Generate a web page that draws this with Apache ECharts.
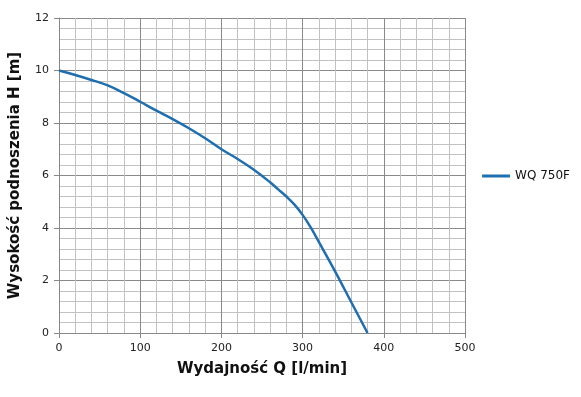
<!DOCTYPE html>
<html>
<head>
<meta charset="utf-8">
<script src="https://cdn.jsdelivr.net/npm/echarts@6/dist/echarts.min.js"></script>
<style>
html, body { margin: 0; padding: 0; background: #fff; }
#chart { width: 581px; height: 397px; }
</style>
</head>
<body>
<div id="chart"></div>
<script>
// dane krzywej pompy
var flowQ = [0, 20, 40, 60, 80, 100, 120, 140, 160, 180, 200, 220, 240, 260, 270, 280, 290, 300, 310, 320, 340, 360, 380];
var headH = [10, 9.83, 9.64, 9.43, 9.14, 8.81, 8.47, 8.15, 7.8, 7.42, 7.0, 6.63, 6.22, 5.74, 5.47, 5.2, 4.89, 4.5, 4.02, 3.47, 2.35, 1.17, 0];
var seriesName = 'WQ 750F';

var chart = echarts.init(document.getElementById('chart'));
var points = flowQ.map(function (q, i) { return [q, headH[i]]; });

var option = {
  textStyle: { fontFamily: '"DejaVu Sans", sans-serif' },
  grid: { left: 59, right: 116, top: 18, bottom: 64 },
  legend: {
    data: [seriesName],
    orient: 'vertical',
    right: 6,
    top: 165,
    itemWidth: 28,
    itemHeight: 3,
    itemGap: 4,
    icon: 'rect',
    textStyle: { fontSize: 12, color: '#111' }
  },
  xAxis: {
    type: 'value',
    min: 0, max: 500, interval: 100,
    name: 'Wydajność Q [l/min]',
    nameLocation: 'middle',
    nameGap: 29,
    nameTextStyle: { fontSize: 15, fontWeight: 'bold', color: '#111' },
    axisLine: { show: true, lineStyle: { color: '#888' } },
    axisTick: { show: true, length: 5, lineStyle: { color: '#888' } },
    axisLabel: { fontSize: 11, color: '#222', margin: 10 },
    splitLine: { show: true, lineStyle: { color: '#8a8a8a', width: 1 } },
    minorTick: { show: false, splitNumber: 5 },
    minorSplitLine: { show: true, lineStyle: { color: '#c2c2c2', width: 1 } }
  },
  yAxis: {
    type: 'value',
    min: 0, max: 12, interval: 2,
    name: 'Wysokość podnoszenia H [m]',
    nameLocation: 'middle',
    nameGap: 36,
    nameTextStyle: { fontSize: 15, fontWeight: 'bold', color: '#111' },
    axisLine: { show: true, lineStyle: { color: '#888' } },
    axisTick: { show: true, length: 5, lineStyle: { color: '#888' } },
    axisLabel: { fontSize: 11, color: '#222', margin: 10 },
    splitLine: { show: true, lineStyle: { color: '#8a8a8a', width: 1 } },
    minorTick: { show: false, splitNumber: 5 },
    minorSplitLine: { show: true, lineStyle: { color: '#c2c2c2', width: 1 } }
  },
  series: [{
    name: seriesName,
    type: 'line',
    data: points,
    smooth: 0.4,
    showSymbol: false,
    lineStyle: { color: '#1f6fb0', width: 2.5 },
    itemStyle: { color: '#1f6fb0' }
  }]
};

chart.setOption(option);
</script>
</body>
</html>
